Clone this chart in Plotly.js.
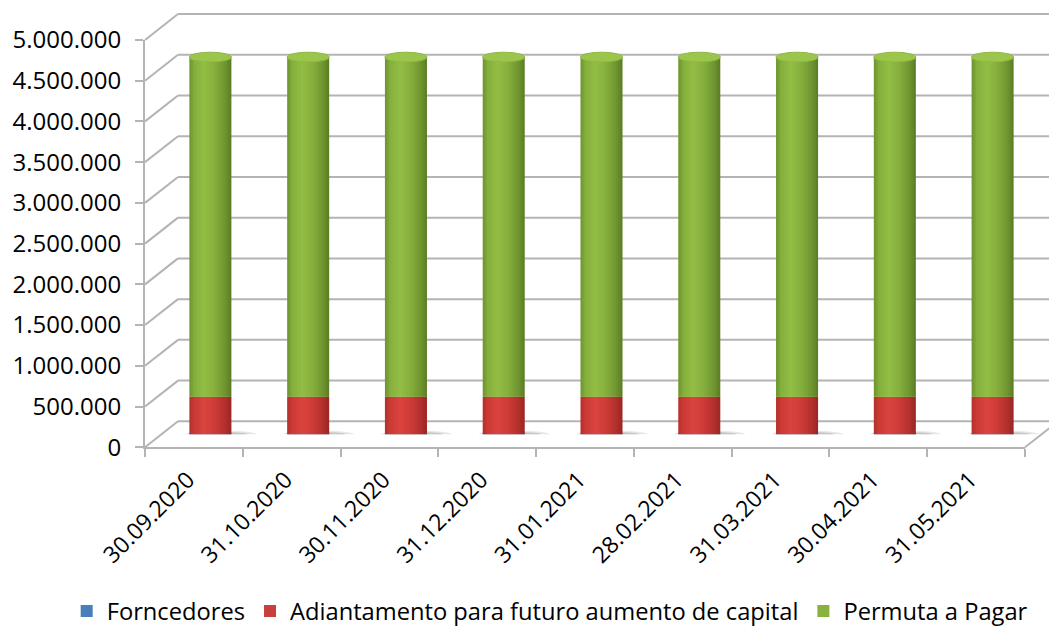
<!DOCTYPE html>
<html>
<head>
<meta charset="utf-8">
<script src="https://cdn.plot.ly/plotly-3.0.1.min.js"></script>
<style>html,body{margin:0;padding:0;background:#fff;}#chart{width:1049px;height:633px;}</style>
</head>
<body>
<div id="chart"></div>
<script>
// ---- data ----
const categories = ['30.09.2020','31.10.2020','30.11.2020','31.12.2020','31.01.2021','28.02.2021','31.03.2021','30.04.2021','31.05.2021'];
const forncedores = [5000, 5000, 5000, 5000, 5000, 5000, 5000, 5000, 5000];
const adiantamento = [455000, 455000, 455000, 455000, 455000, 455000, 455000, 455000, 455000];
const permuta = [4170000, 4170000, 4170000, 4170000, 4170000, 4170000, 4170000, 4170000, 4170000];
const seriesNames = ['Forncedores', 'Adiantamento para futuro aumento de capital', 'Permuta a Pagar'];
const yTicks = [0, 500000, 1000000, 1500000, 2000000, 2500000, 3000000, 3500000, 4000000, 4500000, 5000000];

// ---- style ----
const W = 1049, H = 633;
const FONT = 'Open Sans, sans-serif';
const GRID = '#B4B4B4';
// colour stops across the cylinder width (left -> right)
const stops = [
  [[0, '#2C5A90'], [0.3, '#5A8CC8'], [0.6, '#4777B2'], [1, '#2A5083']],
  [[0, '#B3302C'], [0.12, '#CB3A35'], [0.35, '#DA443F'], [0.6, '#CE3C38'], [0.85, '#B2302D'], [1, '#992725']],
  [[0, '#6C922F'], [0.12, '#84AF3C'], [0.35, '#92BE45'], [0.6, '#86AF3D'], [0.85, '#6F9530'], [1, '#5A7C25']]
];
const legendColors = ['#4A7EBB', '#C8403C', '#88B23E'];
const topColor = '#9CC64B';
const barW = 0.43;
const NSTRIP = 21;
// planes in pixels
const front = {x0: 145, x1: 1025, yb: 448, yt: 40};
const depth = {dx: 33, dy: -26};
const mid = {x0: front.x0 + depth.dx/2, x1: front.x1 + depth.dx/2, yb: front.yb + depth.dy/2, yt: front.yt + depth.dy/2};
const back = {x0: front.x0 + depth.dx, x1: front.x1 + depth.dx, yb: front.yb + depth.dy, yt: front.yt + depth.dy};
const px = v => v / W, py = v => 1 - v / H;

function hex2rgb(h) { return [1, 3, 5].map(o => parseInt(h.substr(o, 2), 16)); }
function colorAt(st, t) {
  for (let i = 0; i < st.length - 1; i++) {
    const [t0, c0] = st[i], [t1, c1] = st[i + 1];
    if (t <= t1) {
      const f = (t - t0) / (t1 - t0), a = hex2rgb(c0), b = hex2rgb(c1);
      return 'rgb(' + a.map((v, j) => Math.round(v + (b[j] - v) * f)).join(',') + ')';
    }
  }
  return st[st.length - 1][1];
}

const idx = categories.map((c, i) => i);
const data = [];
const bases = [
  forncedores.map(() => 0),
  forncedores.slice(),
  forncedores.map((v, i) => v + adiantamento[i])
];
const vals = [forncedores, adiantamento, permuta];
vals.forEach((s, k) => {
  const sw = barW / NSTRIP;
  for (let j = 0; j < NSTRIP; j++) {
    const t = (j + 0.5) / NSTRIP;
    const w = j === NSTRIP - 1 ? sw : sw * 1.6;
    data.push({type: 'bar', x: idx, y: s, base: bases[k], width: w, offset: -barW/2 + j * sw,
      xaxis: 'x2', yaxis: 'y2', name: seriesNames[k], marker: {color: colorAt(stops[k], t), line: {width: 0}},
      showlegend: false, hoverinfo: 'skip'});
  }
  // legend entry
  data.push({type: 'bar', x: [null], y: [null], xaxis: 'x2', yaxis: 'y2', name: seriesNames[k],
    marker: {color: legendColors[k], line: {width: 0}}, showlegend: true, hoverinfo: 'skip'});
});
data.push({type: 'scatter', mode: 'markers', x: categories, y: categories.map(() => 0), xaxis: 'x3', yaxis: 'y3',
  marker: {opacity: 0}, showlegend: false, hoverinfo: 'skip'});
data.push({type: 'scatter', mode: 'markers', x: [0], y: [0], xaxis: 'x', yaxis: 'y',
  marker: {opacity: 0}, showlegend: false, hoverinfo: 'skip'});

// shapes: back-wall gridlines, perspective lines, cylinder ends, floor shadows
const shapes = [];
const yF = v => front.yb - (front.yb - front.yt) * v / 5000000;
const yB = v => back.yb - (back.yb - back.yt) * v / 5000000;
yTicks.forEach(v => {
  shapes.push({type: 'line', xref: 'paper', yref: 'paper', x0: px(back.x0), y0: py(yB(v)), x1: 1, y1: py(yB(v)),
    line: {color: GRID, width: 2}, layer: 'below'});
  shapes.push({type: 'line', xref: 'paper', yref: 'paper', x0: px(front.x0), y0: py(yF(v)), x1: px(back.x0), y1: py(yB(v)),
    line: {color: GRID, width: 2}, layer: 'below'});
});
shapes.push({type: 'line', xref: 'paper', yref: 'paper', x0: px(front.x1), y0: py(front.yb), x1: px(back.x1), y1: py(back.yb),
  line: {color: GRID, width: 2}, layer: 'below'});
const ellH = 60000;
idx.forEach(i => {
  shapes.push({type: 'circle', xref: 'x2', yref: 'y2', x0: i - barW*0.6, x1: i + barW*1.1, y0: -45000, y1: 45000,
    fillcolor: 'rgba(120,120,120,0.18)', line: {width: 0}, layer: 'below'});
  shapes.push({type: 'circle', xref: 'x2', yref: 'y2', x0: i - barW*0.4, x1: i + barW*0.9, y0: -28000, y1: 28000,
    fillcolor: 'rgba(90,90,90,0.25)', line: {width: 0}, layer: 'below'});
  shapes.push({type: 'circle', xref: 'x2', yref: 'y2', x0: i - barW/2, x1: i + barW/2, y0: forncedores[i] - ellH*0.6, y1: forncedores[i] + ellH*0.6,
    fillcolor: '#B8312D', line: {color: '#5A8FD0', width: 1}, layer: 'below'});
  const top = forncedores[i] + adiantamento[i] + permuta[i];
  shapes.push({type: 'circle', xref: 'x2', yref: 'y2', x0: i - barW/2, x1: i + barW/2, y0: top - ellH, y1: top + ellH,
    fillcolor: topColor, line: {color: '#8DB843', width: 1}, layer: 'above'});
});

const layout = {
  width: W, height: H, autosize: false,
  margin: {l: 0, r: 0, t: 0, b: 0},
  paper_bgcolor: '#fff', plot_bgcolor: 'rgba(0,0,0,0)',
  separators: ',.',
  barmode: 'overlay',
  font: {family: FONT, size: 20, color: '#000'},
  showlegend: true,
  legend: {orientation: 'h', x: 0.524, xanchor: 'center', y: py(612), yanchor: 'middle', traceorder: 'normal',
    font: {family: FONT, size: 23.7, color: '#000'}, itemclick: false},
  xaxis: {domain: [px(back.x0), 1], range: [0, 1], showgrid: false, zeroline: false, showticklabels: false, showline: false},
  yaxis: {domain: [py(back.yb), py(back.yt)], range: [0, 5000000], showgrid: false, zeroline: false, showticklabels: false, showline: false},
  xaxis2: {domain: [px(mid.x0), px(mid.x1)], range: [-0.5, categories.length - 0.5], showgrid: false, zeroline: false, showticklabels: false, showline: false, anchor: 'y2'},
  yaxis2: {domain: [py(mid.yb), py(mid.yt)], range: [0, 5000000], showgrid: false, zeroline: false, showticklabels: false, showline: false, anchor: 'x2'},
  xaxis3: {domain: [px(front.x0), px(front.x1)], type: 'category', categoryorder: 'array', categoryarray: categories, range: [-0.5, categories.length - 0.5],
    showgrid: false, zeroline: false, showline: true, linecolor: GRID, linewidth: 2, ticks: 'outside', tickson: 'boundaries', ticklen: 8, tickcolor: GRID, tickwidth: 2,
    tickangle: -45, ticklabelstandoff: 8, ticklabelshift: -6, tickfont: {family: FONT, size: 23, color: '#000'}, anchor: 'y3'},
  yaxis3: {domain: [py(front.yb), py(front.yt)], range: [0, 5000000], tickvals: yTicks, tickformat: ',d', showgrid: false, zeroline: false,
    showline: true, linecolor: GRID, linewidth: 2, ticks: 'outside', ticklen: 8, tickcolor: GRID, tickwidth: 2, ticklabelstandoff: 9,
    tickfont: {family: FONT, size: 24, color: '#000'}, anchor: 'x3'},
  shapes: shapes
};

Plotly.newPlot('chart', data, layout, {displayModeBar: false, staticPlot: true});
</script>
</body>
</html>
